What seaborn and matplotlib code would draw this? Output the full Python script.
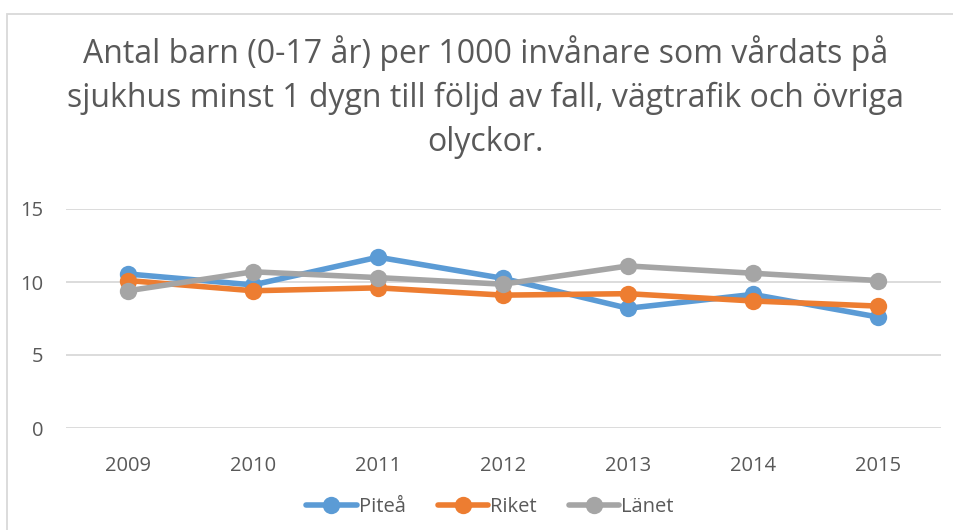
import matplotlib
matplotlib.use("Agg")
import matplotlib.pyplot as plt
import seaborn as sns
import pandas as pd
from matplotlib.patches import Rectangle
from matplotlib.lines import Line2D

years = [2009, 2010, 2011, 2012, 2013, 2014, 2015]
pitea = [10.55, 9.8, 11.7, 10.25, 8.2, 9.15, 7.6]
riket = [10.1, 9.4, 9.6, 9.1, 9.2, 8.7, 8.35]
lanet = [9.4, 10.7, 10.3, 9.85, 11.1, 10.6, 10.1]
series_names = ["Piteå", "Riket", "Länet"]
colors = ["#5B9BD5", "#ED7D31", "#A5A5A5"]
yticks = [0, 5, 10, 15]
title = ("Antal barn (0-17 år) per 1000 invånare som vårdats på\n"
         "sjukhus minst 1 dygn till följd av fall, vägtrafik och övriga\n"
         "olyckor.")

df = pd.DataFrame({
    "År": years * 3,
    "Värde": pitea + riket + lanet,
    "Serie": [series_names[0]] * 7 + [series_names[1]] * 7 + [series_names[2]] * 7,
})

sns.set_theme(style="white")
plt.rcParams["font.family"] = ["Open Sans", "DejaVu Sans"]
text_color = "#595959"

W, H = 954, 530
fig = plt.figure(figsize=(W / 100, H / 100), dpi=100)
ax = fig.add_axes([65.5 / W, 1 - 428 / H, (940.5 - 65.5) / W, (428 - 209) / H])

sns.lineplot(data=df, x="År", y="Värde", hue="Serie", palette=colors,
             marker="o", markersize=12.5, markeredgewidth=0, linewidth=4,
             ax=ax, legend=False, zorder=3)

ax.set_xlim(2008.5, 2015.5)
ax.set_ylim(0, 15)
ax.set_yticks(yticks)
ax.set_xticks(years)
ax.set_xticklabels([str(y) for y in years])
ax.yaxis.grid(True, color="#D9D9D9", linewidth=1.3)
ax.xaxis.grid(False)
for s in ax.spines.values():
    s.set_visible(False)
ax.tick_params(axis="y", length=0, pad=16, labelsize=14.5, labelcolor=text_color)
ax.tick_params(axis="x", length=0, pad=20, labelsize=14.5, labelcolor=text_color)
ax.set_xlabel("")
ax.set_ylabel("")

fig.text(486 / W, 1 - 97 / H, title, ha="center", va="center",
         fontsize=23, color=text_color, linespacing=1.42)

handles = [Line2D([0], [0], color=c, linewidth=4, marker="o", markersize=12.5,
                  markeredgewidth=0) for c in colors]
fig.legend(handles, series_names, loc="center", bbox_to_anchor=(490 / W, 1 - 507 / H),
           ncol=3, frameon=False, fontsize=14.5, handlelength=2.5, handletextpad=0.1,
           columnspacing=1.6, labelcolor=text_color)

fig.patches.append(Rectangle((7.5 / W, -0.1), 1.2, (1 - 13.5 / H) + 0.1,
                             transform=fig.transFigure, fill=False,
                             edgecolor="#D9D9D9", linewidth=1.3))

fig.savefig("out.png", dpi=100, facecolor="white")
